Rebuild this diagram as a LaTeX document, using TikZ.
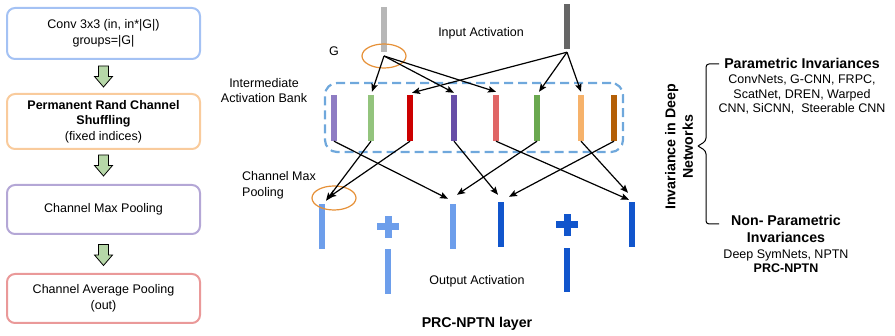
\documentclass[tikz,border=0pt]{standalone}
\usepackage{fontspec}
\setmainfont{Liberation Sans}
\usetikzlibrary{calc,shapes.geometric,arrows.meta}
\definecolor{bxBlue}{HTML}{A4C2F4}
\definecolor{bxOrange}{HTML}{F9CB9C}
\definecolor{bxPurple}{HTML}{B4A7D6}
\definecolor{bxRed}{HTML}{EA9999}
\definecolor{arrGreen}{HTML}{B6D7A8}
\definecolor{inLight}{HTML}{B7B7B7}
\definecolor{inDark}{HTML}{666666}
\definecolor{bankBlue}{HTML}{6FA8DC}
\definecolor{ellOrange}{HTML}{E69138}
\definecolor{cA}{HTML}{8E7CC3}
\definecolor{cB}{HTML}{93C47D}
\definecolor{cC}{HTML}{CC0000}
\definecolor{cD}{HTML}{674EA7}
\definecolor{cE}{HTML}{E06666}
\definecolor{cF}{HTML}{6AA84F}
\definecolor{cG}{HTML}{F6B26B}
\definecolor{cH}{HTML}{B45F06}
\definecolor{outLight}{HTML}{6D9EEB}
\definecolor{outDark}{HTML}{1155CC}
\newcommand\lblfont{\fontsize{12.5}{15.5}\selectfont}
\newcommand\rtfont{\fontsize{12.5}{14.5}\selectfont}
\newcommand\hdfont{\fontsize{14.2}{17.5}\selectfont\bfseries}
\begin{document}
\begin{tikzpicture}[x=1pt,y=-1pt,
  box/.style={draw, line width=2pt, rounded corners=8pt, minimum width=193pt,
    align=center, font=\lblfont, inner sep=0pt},
  bar/.style={inner sep=0pt, draw=none, minimum width=5.5pt},
  obar/.style={inner sep=0pt, draw=none, minimum width=6pt},
  conn/.style={-{Stealth[length=8pt,width=6.5pt,inset=1.5pt]}, line width=1.2pt},
  txt/.style={inner sep=0pt, font=\lblfont, align=center},
  downarr/.pic={\draw[fill=arrGreen, line width=0.8pt, line join=miter]
    (-5,-10.5) -- (5,-10.5) -- (5,0) -- (9,0) -- (0,10.5) -- (-9,0) -- (-5,0) -- cycle;},
  plus/.pic={\fill[#1] (-11,-3.5) rectangle (11,3.5); \fill[#1] (-3.5,-11) rectangle (3.5,11);}
]
\useasboundingbox (0,0) rectangle (895,336);

% ---------- left flow ----------
\node[box, draw=bxBlue, minimum height=51pt] (b1) at (103.5,33.5) {Conv 3x3 (in, in*|G|)\\groups=|G|};
\node[box, draw=bxOrange, minimum height=55pt] (b2) at (103.5,121.5)
  {\textbf{Permanent Rand Channel}\\\textbf{Shuffling}\\(fixed indices)};
\node[box, draw=bxPurple, minimum height=49pt] (b3) at (103.5,209.5) {Channel Max Pooling};
\node[box, draw=bxRed, minimum height=49pt] (b4) at (103.5,298.5) {Channel Average Pooling\\(out)};
\pic at ($(b1.south)!0.5!(b2.north)$) {downarr};
\pic at ($(b2.south)!0.5!(b3.north)+(0,-1.5)$) {downarr};
\pic at ($(b3.south)!0.5!(b4.north)+(0,1)$) {downarr};

% ---------- middle ----------
\node[draw=bankBlue, line width=2.2pt, dash pattern=on 9pt off 5pt, rounded corners=12pt,
  minimum width=298pt, minimum height=69pt, inner sep=0pt] (bank) at (474,117.5) {};

\node[bar, fill=inLight, minimum height=45pt] (in1) at (384,29.5) {};
\node[bar, fill=inDark, minimum height=45pt] (in2) at (567,26.5) {};
\node[ellipse, draw=ellOrange, line width=1.2pt, minimum width=44pt, minimum height=24pt, inner sep=0pt] (gell) at (384,56) {};
\coordinate (in2s) at ([yshift=-3pt]in2.south);

\node[bar, fill=cA, minimum height=46pt] (m1) at (334,118) {};
\node[bar, fill=cB, minimum height=46pt] (m2) at (371,118) {};
\node[bar, fill=cC, minimum height=46pt] (m3) at (410,118) {};
\node[bar, fill=cD, minimum height=46pt] (m4) at (454,118) {};
\node[bar, fill=cE, minimum height=46pt] (m5) at (496,118) {};
\node[bar, fill=cF, minimum height=46pt] (m6) at (537,118) {};
\node[bar, fill=cG, minimum height=46pt] (m7) at (581,118) {};
\node[bar, fill=cH, minimum height=46pt] (m8) at (614,118) {};

\draw[conn] (gell.center) -- ([xshift=1pt,yshift=3pt]m2.north);
\draw[conn] (gell.center) -- ([yshift=2pt]m4.north);
\draw[conn] (gell.center) -- ([yshift=3pt]m5.north);
\draw[conn] (in2s) -- ([xshift=2pt,yshift=2pt]m3.north);
\draw[conn] (in2s) -- ([xshift=2pt,yshift=3pt]m6.north);
\draw[conn] (in2s) -- ([yshift=3pt]m7.north);

\node[obar, fill=outLight, minimum height=45pt] (o1) at (322,226.5) {};
\node[obar, fill=outLight, minimum height=45pt] (o2) at (453,226.5) {};
\node[obar, fill=outDark, minimum height=45pt] (o3) at (501,224.5) {};
\node[obar, fill=outDark, minimum height=45pt] (o4) at (632,224.5) {};
\node[obar, fill=outLight, minimum height=45pt] (l1) at (388,271.5) {};
\node[obar, fill=outDark, minimum height=44pt] (l2) at (567,270) {};
\pic at (388,227) {plus=outLight};
\pic at (567,225) {plus=outDark};
\node[ellipse, draw=ellOrange, line width=1.2pt, minimum width=44pt, minimum height=24pt, inner sep=0pt] (cmp) at (334,198) {};

\draw[conn] (m1.south) -- ([xshift=-5pt,yshift=5pt]o2.north);
\draw[conn] (m2.south) -- ([xshift=4pt,yshift=3pt]o1.north);
\draw[conn] (m3.south) -- ([xshift=6pt,yshift=6pt]o1.north);
\draw[conn] (m4.south) -- ([xshift=-3pt,yshift=7pt]o3.north);
\draw[conn] (m5.south) -- ([xshift=-3pt,yshift=2pt]o4.north);
\draw[conn] (m6.south) -- ([xshift=4pt,yshift=9pt]o2.north);
\draw[conn] (m7.south) -- ([xshift=-4pt,yshift=9pt]o4.north);
\draw[conn] (m8.south) -- ([xshift=8pt,yshift=5pt]o3.north);

\node[txt] (tin) at (481,33) {Input Activation};
\node[txt] (tg) at (334,51) {G};
\node[txt] (tbank) at (264,90.5) {Intermediate\\Activation Bank};
\node[txt, align=left, anchor=west] (tcmp) at (242,185.5) {Channel Max\\Pooling};
\node[txt] (tout) at (477,281) {Output Activation};
\node[txt, font=\hdfont] (tlayer) at (477,324) {PRC-NPTN layer};

% ---------- right ----------
\node[txt, font=\hdfont, rotate=90] (tinv) at (679,147) {Invariance in Deep\\Networks};
\draw[line width=1pt, rounded corners=3pt] (719,64) -- (706,64) -- (706,141) -- (698,146);
\draw[line width=1pt, rounded corners=3pt] (698,146) -- (706,151) -- (706,224) -- (719,224);
\node[txt, font=\hdfont] (tpar) at (802,63) {Parametric Invariances};
\node[txt, font=\rtfont] (tparl) at (802,94.5) {ConvNets, G-CNN, FRPC,\\ScatNet, DREN, Warped\\CNN, SiCNN,\ \ Steerable CNN};
\node[txt, font=\hdfont] (tnon) at (786,229) {Non- Parametric\\Invariances};
\node[txt, font=\rtfont] (tnonl) at (786,261) {Deep SymNets, NPTN\\\textbf{PRC-NPTN}};
\end{tikzpicture}
\end{document}
